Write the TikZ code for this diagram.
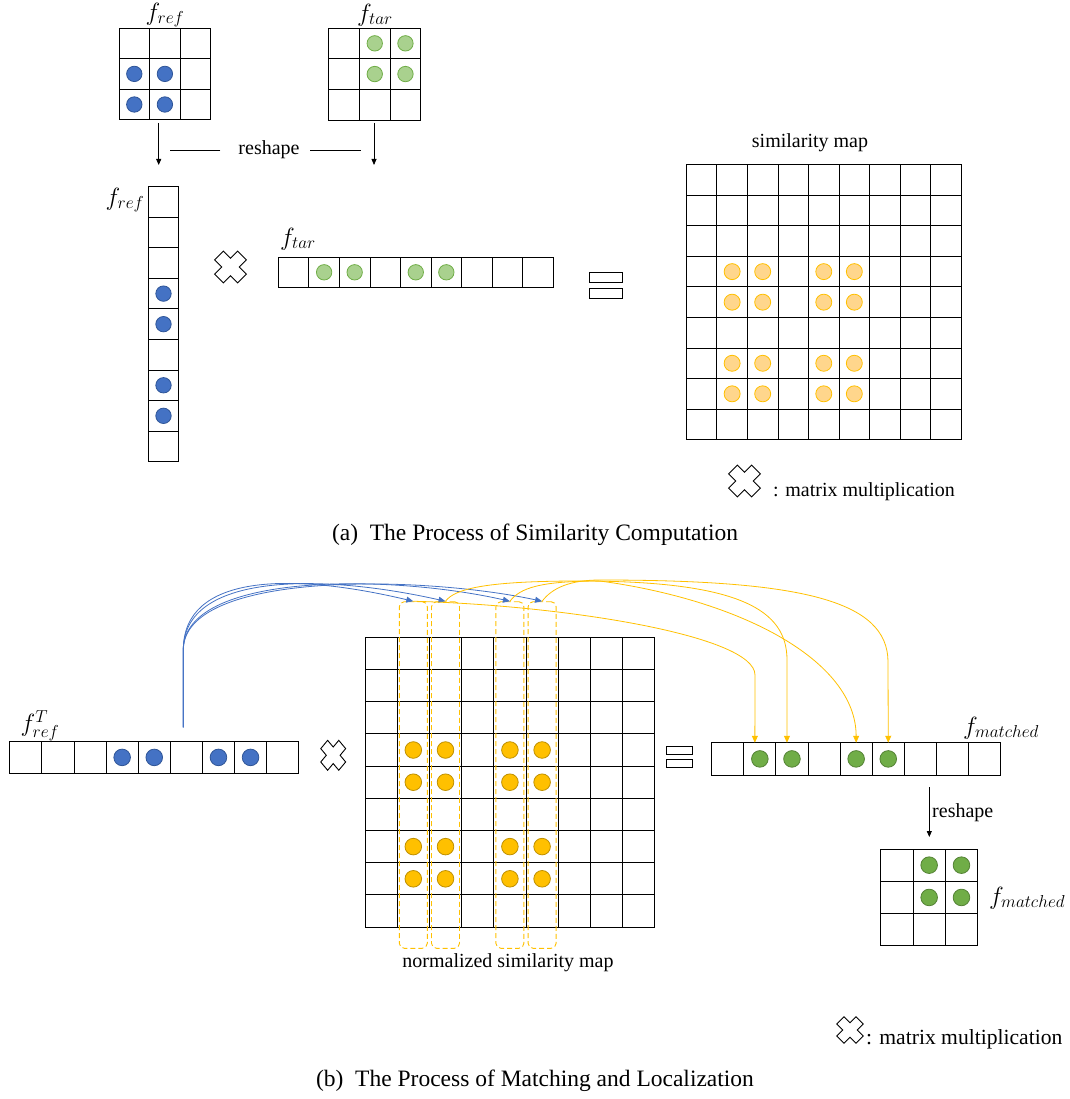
\documentclass[tikz,border=0pt]{standalone}
\usepackage{fontspec}
\setmainfont{Liberation Serif}
\usetikzlibrary{arrows.meta}

\definecolor{refblue}{RGB}{68,114,196}
\definecolor{refblueline}{RGB}{47,85,151}
\definecolor{tarlight}{RGB}{169,209,142}
\definecolor{tarlightline}{RGB}{112,173,71}
\definecolor{simlight}{RGB}{255,214,140}
\definecolor{simgold}{RGB}{255,192,0}
\definecolor{simgoldline}{RGB}{191,144,0}
\definecolor{matgreen}{RGB}{112,173,71}
\definecolor{matgreenline}{RGB}{84,130,53}

\tikzset{
  mulsign/.pic={
    \draw[line width=0.9pt,fill=white,rotate=45]
      (1.02,-0.39) -- (1.02,0.39) -- (0.39,0.39) -- (0.39,1.02) -- (-0.39,1.02) -- (-0.39,0.39)
      -- (-1.02,0.39) -- (-1.02,-0.39) -- (-0.39,-0.39) -- (-0.39,-1.02) -- (0.39,-1.02) -- (0.39,-0.39) -- cycle;
  }
}

\begin{document}
\begin{tikzpicture}[x=1pt,y=-1pt,
    cell/.style={draw,line width=0.9pt,inner sep=0pt,outer sep=0pt},
    dotbase/.style={circle,inner sep=0pt,line width=0.8pt},
    bdot/.style={dotbase,minimum size=15.4pt,fill=refblue,draw=refblueline},
    gdot/.style={dotbase,minimum size=15.4pt,fill=tarlight,draw=tarlightline},
    odot/.style={dotbase,minimum size=16pt,fill=simlight,draw=simgold},
    ydot/.style={dotbase,minimum size=16.6pt,fill=simgold,draw=simgoldline},
    mdot/.style={dotbase,minimum size=16.6pt,fill=matgreen,draw=matgreenline},
    colbox/.style={draw=simgold,line width=0.9pt,dash pattern=on 5pt off 3pt,rounded corners=5pt,
      minimum width=28pt,minimum height=346.6pt,inner sep=0pt},
    eqbar/.style={draw,line width=0.9pt,inner sep=0pt},
    lbl/.style={inner sep=0pt,font=\fontsize{20}{24}\selectfont},
    mathlbl/.style={inner sep=0pt,font=\fontsize{23}{27}\selectfont},
    captext/.style={inner sep=0pt,font=\fontsize{23.5}{28}\selectfont},
    arr/.style={line width=0.8pt,-{Triangle[length=6pt,width=5pt]}},
    bluearc/.style={draw=refblue,line width=0.8pt,-{Triangle[length=7pt,width=6pt]}},
    goldarc/.style={draw=simgold,line width=0.8pt,-{Triangle[length=7pt,width=6pt]}},
  ]
\useasboundingbox (0,0) rectangle (1069,1099);

% ---------- (a) similarity computation ----------
\foreach \r in {1,...,3}
  \foreach \c in {1,...,3} {
    \node[cell,minimum size=30.6pt] (fr-\r-\c) at ({119+(\c-0.5)*30.6},{28+(\r-0.5)*30.6}) {};
    \node[cell,minimum size=30.7pt] (ft-\r-\c) at ({328.7+(\c-0.5)*30.7},{28+(\r-0.5)*30.7}) {};
  }
\foreach \p in {2-1,2-2,3-1,3-2} \node[bdot] at (fr-\p) {};
\foreach \p in {1-2,1-3,2-2,2-3} \node[gdot] at (ft-\p) {};
\node[mathlbl] (frlbl) at (165,15) {$f_{ref}$};
\node[mathlbl] (ftlbl) at (375,15) {$f_{tar}$};

% reshape
\coordinate (rsa1) at (158.7,123);
\coordinate (rsa2) at (158.7,165);
\coordinate (rsa3) at (374,123);
\coordinate (rsa4) at (374,165);
\draw[arr] (rsa1) -- (rsa2);
\draw[arr] (rsa3) -- (rsa4);
\node[lbl] (rsa) at (269,150) {reshape};
\draw[line width=0.8pt] ([xshift=-18pt]rsa.west) -- ([xshift=-68pt]rsa.west);
\draw[line width=0.8pt] ([xshift=10.5pt]rsa.east) -- ([xshift=61pt]rsa.east);

% vectors
\foreach \i in {1,...,9} {
  \node[cell,minimum width=30.4pt,minimum height=30.55pt] (rc-\i) at (163.5,{186.7+(\i-0.5)*30.55}) {};
  \node[cell,minimum width=30.55pt,minimum height=30pt] (tv-\i) at ({278.3+(\i-0.5)*30.55},272.3) {};
}
\foreach \i in {4,5,7,8} \node[bdot] at (rc-\i) {};
\foreach \i in {2,3,5,6} \node[gdot] at (tv-\i) {};
\node[mathlbl] (rclbl) at (125,200) {$f_{ref}$};
\node[mathlbl] (tvlbl) at (298,239) {$f_{tar}$};

\pic[scale=16] at (230.5,267) {mulsign};
\node[eqbar,minimum width=33pt,minimum height=10pt] (eqa1) at (605.5,277.7) {};
\node[eqbar,minimum width=33pt,minimum height=10pt] (eqa2) at (605.5,293.2) {};

% similarity map
\foreach \r in {1,...,9}
  \foreach \c in {1,...,9}
    \node[cell,minimum size=30.55pt] (sm-\r-\c) at ({686.3+(\c-0.5)*30.55},{164.7+(\r-0.5)*30.55}) {};
\foreach \r in {4,5,7,8}
  \foreach \c in {2,3,5,6}
    \node[odot] at (sm-\r-\c) {};
\node[lbl] (smlbl) at (810,143) {similarity map};

\pic[scale=16] at (744.5,481) {mulsign};
\node[lbl,anchor=west] (lega) at (773,492) {: matrix multiplication};

\node[captext] (capa) at (535,535) {(a)\enspace The Process of Similarity Computation};

% ---------- (b) matching and localization ----------
\foreach \i in {1,...,9} {
  \node[cell,minimum width=32.1pt,minimum height=31.3pt] (rr-\i) at ({9.8+(\i-0.5)*32.1},757.4) {};
  \node[cell,minimum width=32.1pt,minimum height=32.3pt] (mr-\i) at ({711.7+(\i-0.5)*32.1},758.9) {};
}
\foreach \i in {4,5,7,8} \node[ydot,fill=refblue,draw=refblueline] at (rr-\i) {};
\foreach \i in {2,3,5,6} \node[mdot] at (mr-\i) {};
\node[mathlbl] (rrlbl) at (40,726) {$f_{ref}^{T}$};
\node[mathlbl] (mrlbl) at (1001,728) {$f_{matched}$};

% normalized similarity map
\foreach \r in {1,...,9}
  \foreach \c in {1,...,9}
    \node[cell,minimum size=32.2pt] (nm-\r-\c) at ({365+(\c-0.5)*32.2},{637.3+(\r-0.5)*32.2}) {};
\foreach \c in {2,3,5,6}
  \node[colbox] (cb-\c) at ({365+(\c-0.5)*32.2},775) {};
\foreach \r in {4,5,7,8}
  \foreach \c in {2,3,5,6}
    \node[ydot] at (nm-\r-\c) {};
\node[lbl] (nmlbl) at (508,963) {normalized similarity map};

\pic[xscale=12.5,yscale=15] at (333.2,755.3) {mulsign};
\node[eqbar,minimum width=25.6pt,minimum height=7.6pt] (eqb1) at (679.5,750.5) {};
\node[eqbar,minimum width=25.6pt,minimum height=8.7pt] (eqb2) at (679.5,763.4) {};

% links
\coordinate (bsrc) at (183.3,727.3);
\draw[bluearc] (bsrc) -- (183.3,650) .. controls (183.3,574) and (290,572) .. (cb-2.north);
\draw[bluearc] (bsrc) -- (183.3,650) .. controls (183.3,573) and (320,573) .. (cb-3.north);
\draw[bluearc] (bsrc) -- (183.3,650) .. controls (183.3,572) and (390,574) .. (cb-5.north);
\draw[bluearc] (bsrc) -- (183.3,650) .. controls (183.3,571) and (420,575) .. (cb-6.north);

\draw[goldarc] (cb-2.north) .. controls (560,605) and (755,635) .. (755,675) -- ([xshift=-5pt]mr-2.north);
\draw[goldarc] (cb-3.north) .. controls (455,588) and (490,581) .. (580,581)
  .. controls (740,581) and (787,610) .. (787,660) -- ([xshift=-5pt]mr-3.north);
\draw[goldarc] (cb-5.north) .. controls (520,588) and (540,581) .. (600,581)
  .. controls (740,600) and (856,660) .. (mr-5.north);
\draw[goldarc] (cb-6.north) .. controls (552,588) and (570,580) .. (600,580)
  .. controls (800,580) and (888,600) .. (888,662) -- (mr-6.north);

% reshape to 3x3
\coordinate (rsb1) at (929.3,787.3);
\coordinate (rsb2) at (929.3,837);
\draw[arr] (rsb1) -- (rsb2);
\node[lbl,anchor=west] (rsb) at (932,813) {reshape};

\foreach \r in {1,...,3}
  \foreach \c in {1,...,3}
    \node[cell,minimum size=32.3pt] (mg-\r-\c) at ({880.7+(\c-0.5)*32.3},{849+(\r-0.5)*32.3}) {};
\foreach \p in {1-2,1-3,2-2,2-3} \node[mdot] at (mg-\p) {};
\node[mathlbl,anchor=west] (mglbl) at (989,898) {$f_{matched}$};

\pic[scale=13.3] at (850,1030) {mulsign};
\node[lbl,anchor=west,font=\fontsize{21.6}{26}\selectfont] (legb) at (866,1039) {: matrix multiplication};

\node[captext] (capb) at (535,1081) {(b)\enspace The Process of Matching and Localization};
\end{tikzpicture}
\end{document}
